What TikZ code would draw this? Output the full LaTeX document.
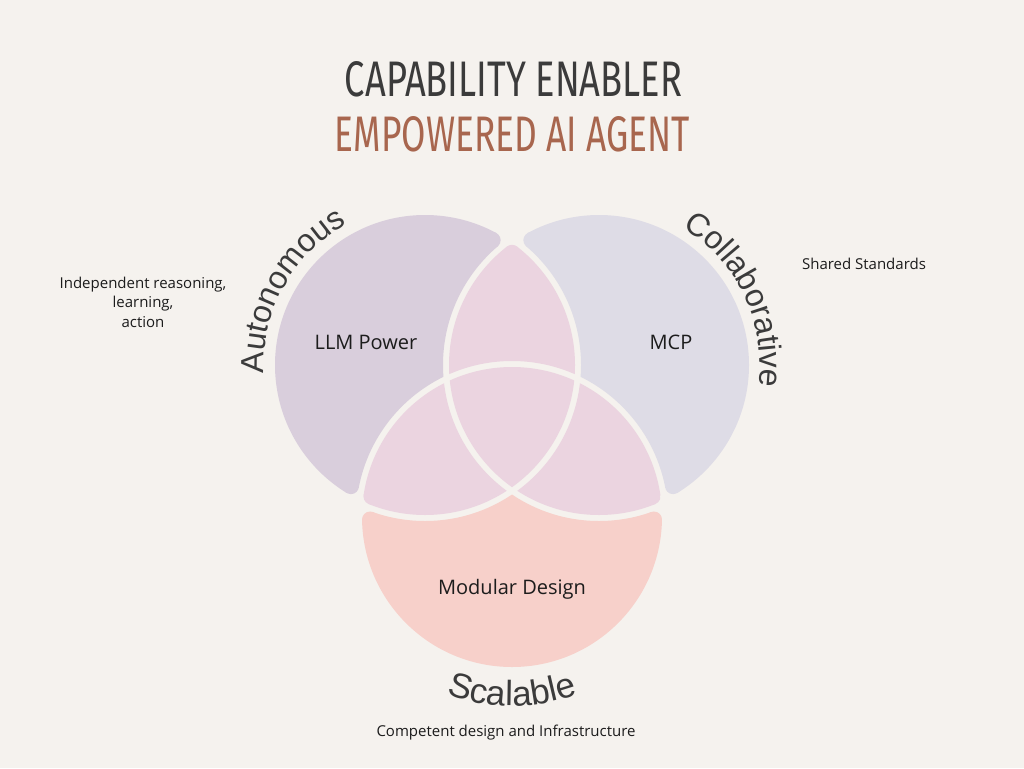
\documentclass[tikz,border=0pt]{standalone}
\usepackage{fontspec}
\usepackage{graphicx}
\usetikzlibrary{calc,decorations.text}
\setmainfont{Open Sans}
\newfontfamily\headfont{Fira Sans}
\newfontfamily\arcfont{Liberation Sans}

\definecolor{paper}{HTML}{F5F2EE}
\definecolor{lilac}{HTML}{D9CEDC}
\definecolor{mist}{HTML}{DEDCE6}
\definecolor{blush}{HTML}{EBD4E0}
\definecolor{peach}{HTML}{F7D0CA}
\definecolor{ink}{HTML}{3B3B3B}
\definecolor{rust}{HTML}{A8664E}
\definecolor{body}{HTML}{1C1C1C}

% circle centres and radii (pixel units)
\def\Lx{425}\def\Ly{365}
\def\Rx{599}\def\Ry{365}
\def\Bx{512}\def\By{517}
\def\rin{150}\def\rout{156}\def\rf{8}

% intersection of two circles: x1,y1,r1,x2,y2,r2,branch,name
\newcommand{\circint}[8]{%
  \pgfmathsetmacro\ciDx{((#4)-(#1))/100}%
  \pgfmathsetmacro\ciDy{((#5)-(#2))/100}%
  \pgfmathsetmacro\ciD{sqrt((\ciDx)*(\ciDx)+(\ciDy)*(\ciDy))}%
  \pgfmathsetmacro\ciA{(#3)/100}%
  \pgfmathsetmacro\ciB{(#6)/100}%
  \pgfmathsetmacro\ciL{((\ciA)*(\ciA)-(\ciB)*(\ciB)+(\ciD)*(\ciD))/(2*(\ciD))}%
  \pgfmathsetmacro\ciH{sqrt((\ciA)*(\ciA)-(\ciL)*(\ciL))}%
  \pgfmathsetmacro\ciEx{(\ciDx)/(\ciD)}%
  \pgfmathsetmacro\ciEy{(\ciDy)/(\ciD)}%
  \pgfmathsetmacro\ciX{(#1)+100*((\ciL)*(\ciEx)-(#7)*(\ciH)*(\ciEy))}%
  \pgfmathsetmacro\ciY{(#2)+100*((\ciL)*(\ciEy)+(#7)*(\ciH)*(\ciEx))}%
  \coordinate (#8) at (\ciX,\ciY);%
}

% rounded corner between two circle edges:
% name, circle A, side A (+1 inside / -1 outside), circle B, side B, branch
\newcommand{\fillet}[6]{%
  \pgfmathsetmacro\fA{(#3)>0 ? \rin : \rout}%
  \pgfmathsetmacro\fB{(#5)>0 ? \rin : \rout}%
  \pgfmathsetmacro\fAo{\fA-(#3)*\rf}%
  \pgfmathsetmacro\fBo{\fB-(#5)*\rf}%
  \edef\fAx{\csname #2x\endcsname}\edef\fAy{\csname #2y\endcsname}%
  \edef\fBx{\csname #4x\endcsname}\edef\fBy{\csname #4y\endcsname}%
  \circint{\fAx}{\fAy}{\fAo}{\fBx}{\fBy}{\fBo}{#6}{#1-o}%
  \circint{\fAx}{\fAy}{\fA}{\fBx}{\fBy}{\fB}{#6}{#1-c}%
  \pgfmathsetmacro\fkA{\fA/\fAo}%
  \pgfmathsetmacro\fkB{\fB/\fBo}%
  \pgfmathsetmacro\fkAe{(\fA+(#3)*14)/\fAo}%
  \pgfmathsetmacro\fkBe{(\fB+(#5)*14)/\fBo}%
  \coordinate (#1-t1) at ($(#2)!\fkA!(#1-o)$);%
  \coordinate (#1-t2) at ($(#4)!\fkB!(#1-o)$);%
  \coordinate (#1-t1e) at ($(#2)!\fkAe!(#1-o)$);%
  \coordinate (#1-t2e) at ($(#4)!\fkBe!(#1-o)$);%
  \coordinate (#1-cf) at ($(#1-o)!2.5!(#1-c)$);%
}

% clipping helpers (used inside scopes set to the even odd rule)
\newcommand{\keepin}[1]{\clip (#1) circle[radius=\rin];}
\newcommand{\keepout}[1]{\clip (-50,-50) rectangle (1074,818) (#1) circle[radius=\rout];}
\newcommand{\cutcap}[1]{\clip (-50,-50) rectangle (1074,818)
  (#1-t1) -- (#1-t1e) -- (#1-cf) -- (#1-t2e) -- (#1-t2) -- cycle;}
\newcommand{\sheet}[1]{\fill[#1] (-50,-50) rectangle (1074,818);}

\tikzset{
  inlabel/.style={anchor=base, inner sep=0pt, text=body, font=\fontsize{20}{24}\selectfont},
  note/.style={anchor=base, inner sep=0pt, text=body, font=\fontsize{15}{20}\selectfont},
  headline/.style={anchor=base, inner sep=0pt},
  arclabel/.style 2 args={decorate, decoration={text along path, text align=center,
      text color=ink, text={|\arcfont\fontsize{#2}{#2}\selectfont|#1}}}
}

\begin{document}
\begin{tikzpicture}[x=1pt,y=-1pt]
\useasboundingbox (0,0) rectangle (1024,768);
\fill[paper] (0,0) rectangle (1024,768);

\coordinate (L) at (\Lx,\Ly);
\coordinate (R) at (\Rx,\Ry);
\coordinate (B) at (\Bx,\By);

% corner roundings
\fillet{pT}{L}{1}{R}{-1}{-1}
\fillet{pLB}{L}{1}{B}{-1}{1}
\fillet{gT}{L}{-1}{R}{1}{-1}
\fillet{gRB}{R}{1}{B}{-1}{-1}
\fillet{kLB}{L}{-1}{B}{1}{1}
\fillet{kRB}{R}{-1}{B}{1}{-1}
\fillet{lT}{L}{1}{R}{1}{-1}
\fillet{lLB}{L}{1}{B}{1}{1}
\fillet{lRB}{R}{1}{B}{1}{-1}

% left crescent
\begin{scope}[even odd rule]
  \keepin{L}\keepout{R}\keepout{B}
  \begin{scope}\cutcap{pT}\cutcap{pLB}\sheet{lilac}\end{scope}
  \fill[lilac] (pT-o) circle[radius=\rf] (pLB-o) circle[radius=\rf];
\end{scope}
% right crescent
\begin{scope}[even odd rule]
  \keepin{R}\keepout{L}\keepout{B}
  \begin{scope}\cutcap{gT}\cutcap{gRB}\sheet{mist}\end{scope}
  \fill[mist] (gT-o) circle[radius=\rf] (gRB-o) circle[radius=\rf];
\end{scope}
% bottom crescent
\begin{scope}[even odd rule]
  \keepin{B}\keepout{L}\keepout{R}
  \begin{scope}\cutcap{kLB}\cutcap{kRB}\sheet{peach}\end{scope}
  \fill[peach] (kLB-o) circle[radius=\rf] (kRB-o) circle[radius=\rf];
\end{scope}
% upper lens
\begin{scope}[even odd rule]
  \keepin{L}\keepin{R}\keepout{B}
  \begin{scope}\cutcap{lT}\sheet{blush}\end{scope}
  \fill[blush] (lT-o) circle[radius=\rf];
\end{scope}
% lower left lens
\begin{scope}[even odd rule]
  \keepin{L}\keepin{B}\keepout{R}
  \begin{scope}\cutcap{lLB}\sheet{blush}\end{scope}
  \fill[blush] (lLB-o) circle[radius=\rf];
\end{scope}
% lower right lens
\begin{scope}[even odd rule]
  \keepin{R}\keepin{B}\keepout{L}
  \begin{scope}\cutcap{lRB}\sheet{blush}\end{scope}
  \fill[blush] (lRB-o) circle[radius=\rf];
\end{scope}
% centre
\begin{scope}
  \keepin{L}\keepin{R}\keepin{B}\sheet{blush}
\end{scope}

% headings
\node[headline] (head1) at (513.5,96.7)
  {\resizebox{337pt}{35pt}{\color{ink}\headfont CAPABILITY ENABLER}};
\node[headline] (head2) at (512.5,151.7)
  {\resizebox{355pt}{35pt}{\color{rust}\headfont EMPOWERED AI AGENT}};

% labels inside the circles
\node[inlabel] (llm) at (366,349) {LLM Power};
\node[inlabel] (mcp) at (671,349) {MCP};
\node[inlabel] (modular) at (512,594) {Modular Design};

% side notes
\node[note] (indep1) at (143,288) {Independent reasoning,};
\node[note] (indep2) at (143,307.5) {learning,};
\node[note] (indep3) at (143,327) {action};
\node[note] (shared) at (864,269) {Shared Standards};
\node[note] (competent) at (506,736) {Competent design and Infrastructure};

% curved titles round the circles
\path[arclabel={Autonomous}{32}] (L) ++(150:161) arc[start angle=150, end angle=268, radius=161];
\path[arclabel={Collaborative}{32}] (R) ++(-85:161) arc[start angle=-85, end angle=34, radius=161];
\path[arclabel={Scalable}{35}] (B) ++(130:189) arc[start angle=130, end angle=50, radius=189];
\end{tikzpicture}
\end{document}
